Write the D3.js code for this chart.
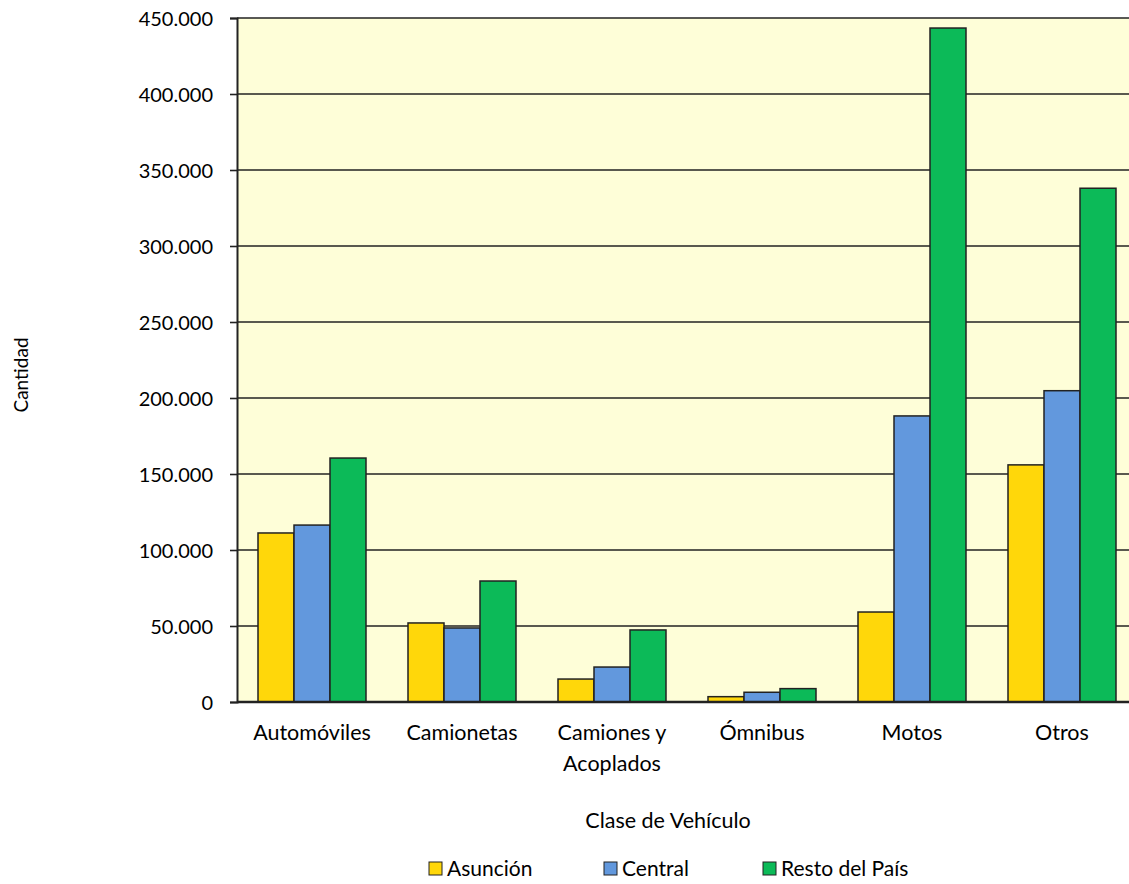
<!DOCTYPE html>
<html><head><meta charset="utf-8">
<script src="https://cdn.jsdelivr.net/npm/d3@7"></script>
<style>body{margin:0;background:#fff;} text{font-family:Lato, "Open Sans", sans-serif;fill:#000;}</style>
</head><body>
<svg id="c" width="1129" height="884"></svg>
<script>
const categories = ["Automóviles","Camionetas","Camiones y\nAcoplados","Ómnibus","Motos","Otros"];
const seriesNames = ["Asunción","Central","Resto del País"];
const asuncion = [111200, 52000, 15100, 3500, 59200, 156000];
const central = [116400, 48700, 23000, 6400, 188200, 204800];
const resto = [160500, 79600, 47400, 8800, 443400, 338000];
const yTicks = [0,50000,100000,150000,200000,250000,300000,350000,400000,450000];
const colors = ["#FFD70A","#6298DD","#0CBA58"];

(function(){
const svg = d3.select("#c");
const pL = 237, pT = 18, pB = 702, pR = 1137;
const x = d3.scaleBand().domain(categories).range([pL, pR]).paddingInner(0).paddingOuter(0);
const xs = d3.scaleBand().domain(seriesNames).range([0, x.bandwidth()]).paddingInner(0).paddingOuter(21/36);
const y = d3.scaleLinear().domain([0,450000]).range([pB, pT]);
const fmt = v => d3.format(",")(v).replace(/,/g,".");

svg.append("rect").attr("x",pL).attr("y",pT).attr("width",pR-pL).attr("height",pB-pT).attr("fill","#FEFED8");
svg.append("g").selectAll("line").data(yTicks.slice(1)).join("line")
  .attr("x1",pL).attr("x2",pR).attr("y1",d=>y(d)).attr("y2",d=>y(d))
  .attr("stroke","#222").attr("stroke-width",1.6);

const data = [asuncion, central, resto];
const g = svg.append("g");
categories.forEach((c,i)=>{
  seriesNames.forEach((s,j)=>{
    g.append("rect").attr("x",x(c)+xs(s)).attr("y",y(data[j][i]))
      .attr("width",xs.bandwidth()).attr("height",pB-y(data[j][i]))
      .attr("fill",colors[j]).attr("stroke","#222").attr("stroke-width",1.5);
  });
});

const ya = svg.append("g").attr("transform",`translate(${pL},0)`)
  .call(d3.axisLeft(y).tickValues(yTicks).tickFormat(fmt).tickSizeOuter(0).tickSize(7).tickPadding(17));
ya.select(".domain").attr("stroke","#222").attr("stroke-width",2);
ya.selectAll(".tick line").attr("stroke","#222").attr("stroke-width",1.6);
ya.selectAll(".tick text").attr("font-size",20).attr("font-family","Lato, sans-serif").attr("fill","#000").attr("dy","0.36em");
svg.append("line").attr("x1",pL).attr("x2",pR).attr("y1",pB).attr("y2",pB).attr("stroke","#222").attr("stroke-width",2.5);

categories.forEach(c=>{
  const lines = c.split("\n");
  const t = svg.append("text").attr("x",x(c)+x.bandwidth()/2).attr("y",740).attr("text-anchor","middle").attr("font-size",21.5);
  lines.forEach((l,k)=>t.append("tspan").attr("x",x(c)+x.bandwidth()/2).attr("dy",k?31:0).text(l));
});

svg.append("text").attr("x",668).attr("y",828).attr("text-anchor","middle").attr("font-size",21.5).text("Clase de Vehículo");
svg.append("text").attr("transform","translate(28,375) rotate(-90)").attr("text-anchor","middle").attr("font-size",19).attr("font-family","'Liberation Sans', Arial, sans-serif").text("Cantidad");

const legX = [429, 604, 763];
seriesNames.forEach((s,j)=>{
  svg.append("rect").attr("x",legX[j]).attr("y",862).attr("width",13).attr("height",13).attr("fill",colors[j]).attr("stroke","#222").attr("stroke-width",1);
  svg.append("text").attr("x",legX[j]+18).attr("y",876).attr("font-size",21).text(s);
});
})();
</script>
</body></html>
